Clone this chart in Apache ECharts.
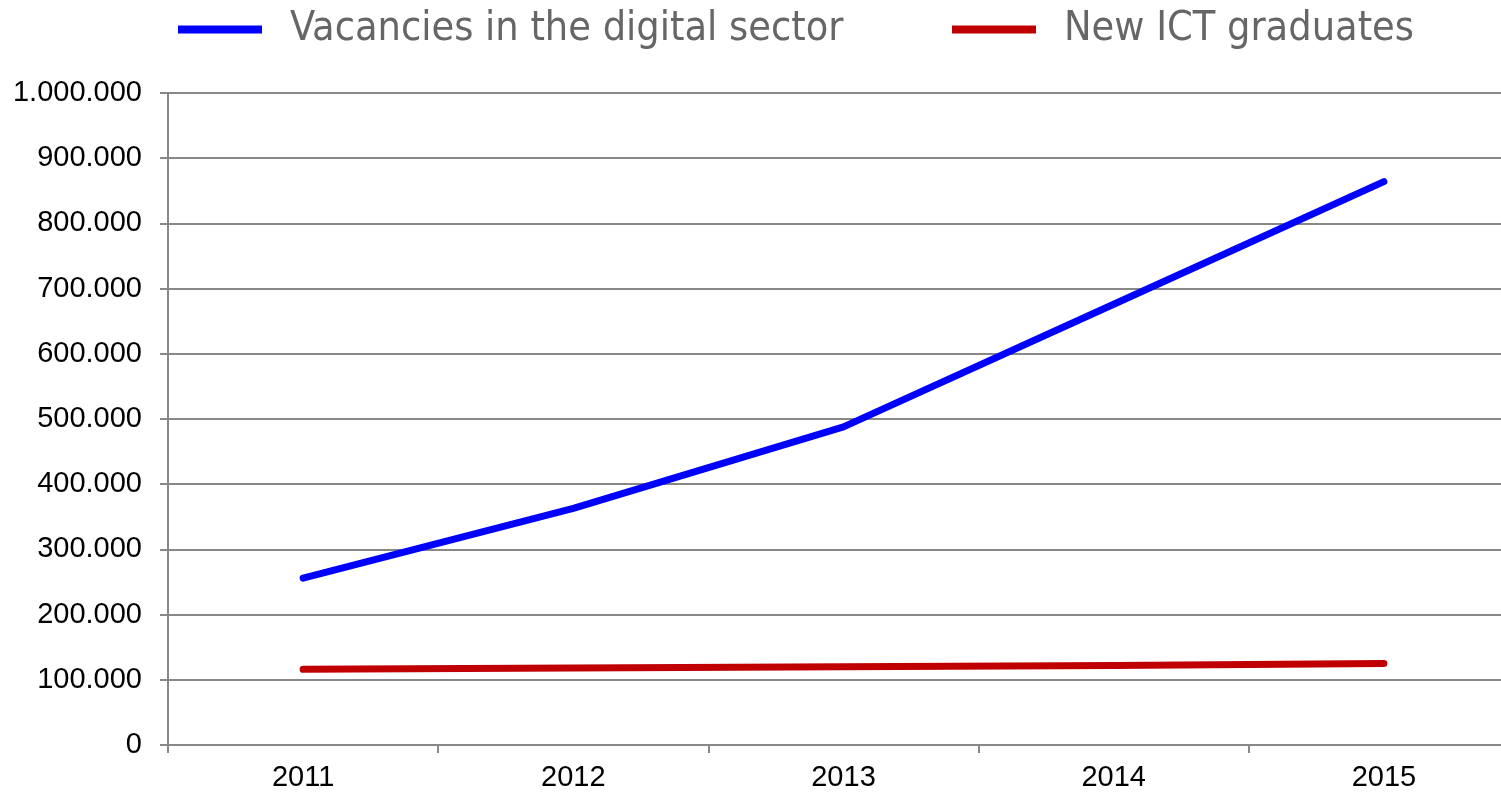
<!DOCTYPE html>
<html>
<head>
<meta charset="utf-8">
<script src="https://cdn.jsdelivr.net/npm/echarts@6/dist/echarts.min.js"></script>
<style>
  html, body { margin: 0; padding: 0; background: #fff; }
  #chart { width: 1501px; height: 794px; }
</style>
</head>
<body>
<div id="chart"></div>
<script>
// data
var years = ['2011', '2012', '2013', '2014', '2015'];
var vacancies = [256000, 363000, 488000, 676000, 864000];
var graduates = [116000, 118000, 120000, 122000, 125000];
var seriesNames = ['Vacancies in the digital sector', 'New ICT graduates'];

function dotted(v) {
    return String(v).replace(/\B(?=(\d{3})+(?!\d))/g, '.');
}

var chart = echarts.init(document.getElementById('chart'));
var legendText = {
    color: '#666666',
    fontSize: 41,
    fontFamily: '"DejaVu Sans Condensed", "DejaVu Sans", sans-serif',
    padding: [0, 0, 0, 23]
};
var labelFont = '"Liberation Sans", Arial, sans-serif';
var option = {
    animation: false,
    legend: [
        {
            left: 173, top: 4,
            data: [seriesNames[0]],
            icon: 'rect', itemWidth: 84, itemHeight: 8,
            textStyle: legendText
        },
        {
            left: 947, top: 4,
            data: [seriesNames[1]],
            icon: 'rect', itemWidth: 84, itemHeight: 8,
            textStyle: legendText
        }
    ],
    // plot area runs a little past the right edge of the picture
    grid: { left: 168, width: 1351, top: 93, bottom: 49, outerBoundsMode: 'none' },
    xAxis: {
        type: 'category',
        data: years,
        boundaryGap: true,
        axisLine: { lineStyle: { color: '#888888', width: 2 } },
        axisTick: { show: true, length: 8, lineStyle: { color: '#888888', width: 2 } },
        axisLabel: { color: '#000', fontSize: 29, fontFamily: labelFont, margin: 18 }
    },
    yAxis: {
        type: 'value',
        min: 0, max: 1000000, interval: 100000,
        axisLine: { show: true, lineStyle: { color: '#888888', width: 2 } },
        axisTick: { show: true, length: 8, lineStyle: { color: '#888888', width: 2 } },
        splitLine: { lineStyle: { color: '#888888', width: 2 } },
        axisLabel: {
            color: '#000', fontSize: 29, fontFamily: labelFont, margin: 26,
            formatter: dotted
        }
    },
    series: [
        {
            name: seriesNames[0], type: 'line', data: vacancies,
            symbol: 'none', color: '#0000ff',
            lineStyle: { width: 7, cap: 'round', join: 'round' }
        },
        {
            name: seriesNames[1], type: 'line', data: graduates,
            symbol: 'none', color: '#c00000',
            lineStyle: { width: 7, cap: 'round', join: 'round' }
        }
    ]
};
chart.setOption(option);
</script>
</body>
</html>
